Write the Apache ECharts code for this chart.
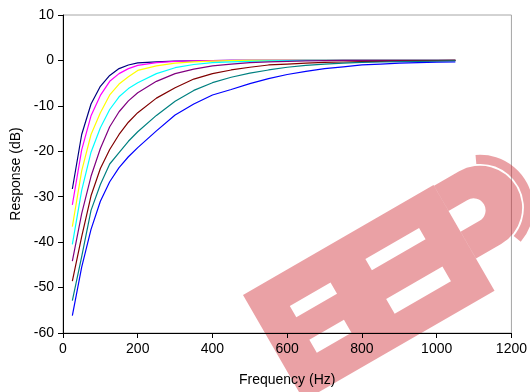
<!DOCTYPE html>
<html>
<head>
<meta charset="utf-8">
<script src="https://cdn.jsdelivr.net/npm/echarts@6/dist/echarts.min.js"></script>
<style>
  html, body { margin: 0; padding: 0; background: #fff; }
  #chart { width: 530px; height: 392px; }
</style>
</head>
<body>
<div id="chart"></div>
<script>
// frequency points (Hz) and responses (dB)
var freq = [25, 50, 75, 100, 125, 150, 175, 200, 250, 300, 350, 400, 450, 500, 550, 600, 650, 700, 750, 800, 850, 900, 950, 1000, 1050];

var navy    = [-28.3, -16.3, -9.6, -5.7, -3.3, -1.8, -1.0, -0.55, -0.3, -0.15, -0.1, -0.05, 0, 0, 0, 0, 0, 0, 0, 0, 0, 0, 0, 0, 0];
var magenta = [-31.8, -19.7, -12.2, -7.7, -4.6, -2.9, -1.8, -1.1, -0.5, -0.2, -0.1, -0.05, 0, 0, 0, 0, 0, 0, 0, 0, 0, 0, 0, 0, 0];
var yellow  = [-36.6, -24.3, -16.3, -11.5, -7.6, -5.2, -3.6, -2.2, -1.2, -0.6, -0.3, -0.15, -0.05, 0, 0, 0, 0, 0, 0, 0, 0, 0, 0, 0, 0];
var cyan    = [-40.5, -28.6, -20.2, -14.8, -10.8, -8.0, -6.2, -4.9, -2.9, -1.6, -0.9, -0.5, -0.3, -0.2, -0.1, -0.05, 0, 0, 0, 0, 0, 0, 0, 0, 0];
var purple  = [-44.2, -33.7, -25.5, -19.4, -14.6, -11.3, -8.9, -7.1, -4.6, -2.9, -1.9, -1.2, -0.8, -0.5, -0.3, -0.2, -0.1, -0.05, 0, 0, 0, 0, 0, 0, 0];
var darkred = [-48.6, -38.8, -29.8, -23.8, -19.6, -16.3, -13.6, -11.5, -8.3, -6.0, -4.1, -2.9, -2.1, -1.5, -1.0, -0.8, -0.6, -0.45, -0.35, -0.25, -0.2, -0.15, -0.1, -0.05, 0];
var teal    = [-52.9, -43.2, -33.0, -27.3, -22.8, -20.3, -17.8, -15.7, -12.1, -9.0, -6.6, -4.9, -3.7, -2.8, -2.1, -1.5, -1.1, -0.8, -0.6, -0.45, -0.35, -0.25, -0.2, -0.15, -0.1];
var blue    = [-56.2, -45.5, -37.2, -31.0, -26.7, -23.6, -21.2, -19.2, -15.5, -12.0, -9.6, -7.6, -6.4, -5.1, -4.0, -3.1, -2.4, -1.8, -1.4, -1.0, -0.8, -0.6, -0.5, -0.4, -0.35];

var curves = [
  { name: 'navy', color: '#000080', data: navy },
  { name: 'magenta', color: '#ff00ff', data: magenta },
  { name: 'yellow', color: '#ffff00', data: yellow },
  { name: 'cyan', color: '#00ffff', data: cyan },
  { name: 'purple', color: '#800080', data: purple },
  { name: 'darkred', color: '#800000', data: darkred },
  { name: 'teal', color: '#008080', data: teal },
  { name: 'blue', color: '#0000ff', data: blue }
];

var FONT = 'Liberation Sans';
var WM = 'rgba(205,30,40,0.42)';

function pairs(ys) {
  var out = [];
  for (var i = 0; i < freq.length; i++) {
    out.push([freq[i], ys[i]]);
  }
  return out;
}

// watermark ("EEP" stamp): one path, holes wound the other way (nonzero fill)
function hole(ctx, x, y, w, h) {
  ctx.moveTo(x, y);
  ctx.lineTo(x, y + h);
  ctx.lineTo(x + w, y + h);
  ctx.lineTo(x + w, y);
  ctx.closePath();
}
var Stamp = echarts.graphic.extendShape({
  shape: {},
  buildPath: function (ctx) {
    var rad = Math.PI / 180;
    // band with the two E's
    ctx.moveTo(0, 0);
    ctx.lineTo(220, 0);
    ctx.lineTo(220, 122);
    ctx.lineTo(0, 122);
    ctx.closePath();
    hole(ctx, 35, 33, 47, 13);
    hole(ctx, 35, 72, 40, 15);
    hole(ctx, 124, 30, 62, 13);
    hole(ctx, 122, 75, 65, 17);
    // P bowl
    ctx.moveTo(220, 1);
    ctx.lineTo(249, 1);
    ctx.arc(249, 43, 42, -90 * rad, 90 * rad, false);
    ctx.lineTo(220, 85);
    ctx.closePath();
    ctx.moveTo(220, 30);
    ctx.lineTo(220, 54);
    ctx.lineTo(242, 54);
    ctx.arc(242, 42, 12, 90 * rad, -90 * rad, true);
    ctx.closePath();
    // outer ring of the logo, thin white gap to the bowl
    var a1 = -65 * rad, a2 = 70 * rad;
    ctx.moveTo(249 + 53 * Math.cos(a1), 43 + 53 * Math.sin(a1));
    ctx.arc(249, 43, 53, a1, a2, false);
    ctx.lineTo(249 + 43.8 * Math.cos(a2), 43 + 43.8 * Math.sin(a2));
    ctx.arc(249, 43, 43.8, a2, a1, true);
    ctx.closePath();
  }
});
echarts.graphic.registerShape('stamp', Stamp);

var chart = echarts.init(document.getElementById('chart'), null, { renderer: 'canvas' });

var series = curves.map(function (c) {
  return {
    name: c.name,
    type: 'line',
    data: pairs(c.data),
    showSymbol: false,
    smooth: false,
    animation: false,
    lineStyle: { color: c.color, width: 1.2 }
  };
});

var option = {
  animation: false,
  backgroundColor: '#fff',
  grid: {
    left: 63, right: 16, top: 15, bottom: 59,
    show: true,
    borderColor: '#a6a6a6',
    borderWidth: 1
  },
  xAxis: {
    type: 'value',
    min: 0, max: 1200, interval: 200,
    name: 'Frequency (Hz)',
    nameLocation: 'middle',
    nameGap: 40,
    nameTextStyle: { fontFamily: FONT, fontSize: 14, color: '#000' },
    axisLine: { onZero: false, lineStyle: { color: '#000', width: 1 } },
    axisTick: { inside: false, length: 5, lineStyle: { color: '#000' } },
    axisLabel: { fontFamily: FONT, fontSize: 14, color: '#000', margin: 9,
      formatter: function (v) { return String(v); } },
    splitLine: { show: false }
  },
  yAxis: {
    type: 'value',
    min: -60, max: 10, interval: 10,
    name: 'Response (dB)',
    nameLocation: 'middle',
    nameGap: 34,
    nameTextStyle: { fontFamily: FONT, fontSize: 14, color: '#000' },
    axisLine: { show: true, onZero: false, lineStyle: { color: '#000', width: 1 } },
    axisTick: { show: true, inside: false, length: 5, lineStyle: { color: '#000' } },
    axisLabel: { fontFamily: FONT, fontSize: 14, color: '#000', margin: 9,
      formatter: function (v) { return String(v); } },
    splitLine: { show: false }
  },
  series: series,
  graphic: [{
    type: 'group',
    x: 243, y: 295,
    rotation: Math.PI / 6,
    z: 100,
    children: [
      { type: 'stamp', shape: {}, style: { fill: WM } }
    ]
  }]
};

chart.setOption(option);
</script>
</body>
</html>
